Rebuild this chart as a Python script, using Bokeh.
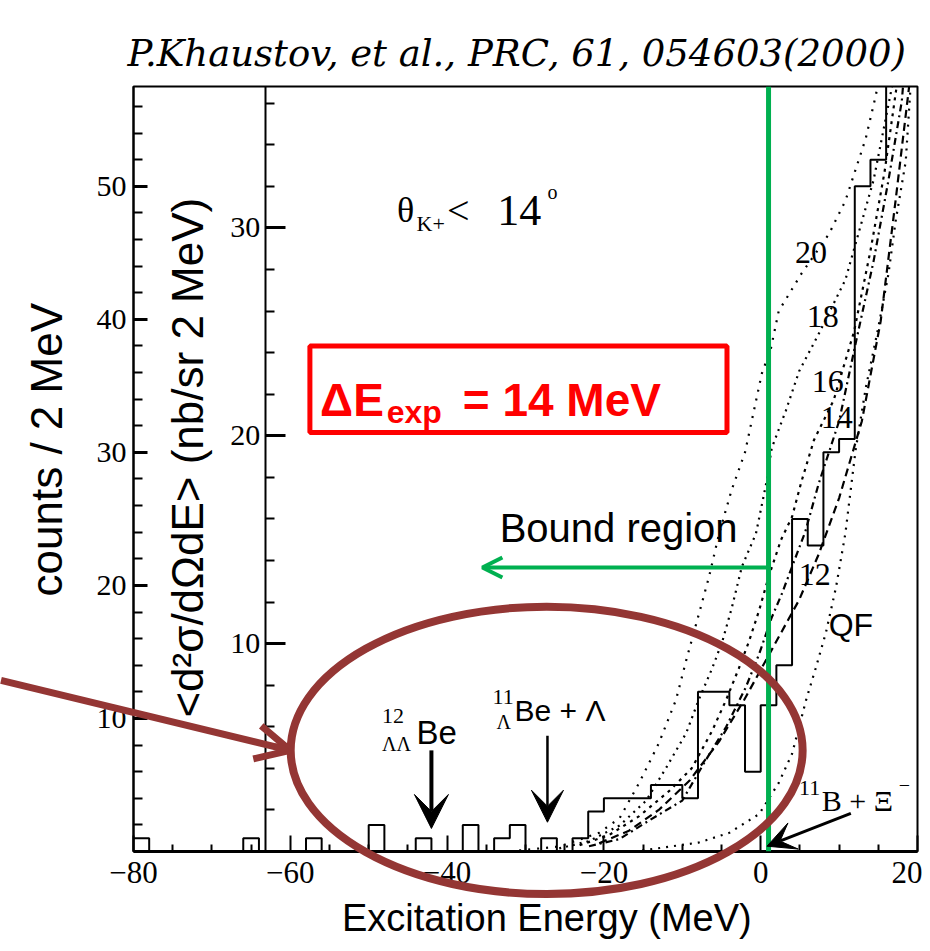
from math import pi
from bokeh.plotting import figure
from bokeh.models import (Range1d, LinearAxis, FixedTicker, Label, Span, Arrow,
                          VeeHead, OpenHead, BoxAnnotation)
from bokeh.core.properties import value
from bokeh.embed import file_html
from bokeh.resources import INLINE

# ---------------- data ----------------
BIN_LEFT = list(range(-80, 20, 2))          # 2 MeV bins
BIN_RIGHT_EDGE = 20
COUNTS = [1, 0, 0, 0, 0, 0, 0, 1, 0, 0,
          0, 1, 0, 0, 0, 2, 0, 0, 1, 0,
          0, 2, 0, 1, 2, 0, 1, 0, 1, 3,
          4, 4, 4, 5, 5, 4, 12, 12, 11, 6,
          11, 14, 25, 23, 30, 31, 50, 52, 62, 66]

# theoretical curves (cross-section units), labelled by potential depth
C20_E = [-30.8, -25.7, -20.6, -18.0, -15.5, -13.0, -10.8, -9.5, -7.9, -6.6, -5.3,
         -3.7, -2.0, 0.15, 1.3, 2.3, 5.2, 8.7, 10.8, 13.4, 14.7, 15.2]
C20_CS = [0.05, 0.24, 0.9, 1.6, 3.3, 5.2, 7.3, 9.2, 11.4, 13.2, 15.3,
          17.4, 19.2, 23.0, 24.2, 26.0, 27.8, 29.7, 31.3, 34.3, 36.4, 37.5]
C18_E = [-25.7, -21.9, -18.0, -14.6, -12.1, -9.5, -7.9, -6.2, -4.9, -3.7, -2.4,
         -0.6, 0.7, 1.4, 3.2, 4.9, 7.4, 10.8, 14.4, 16.7, 17.0]
C18_CS = [0.15, 0.5, 1.25, 2.45, 4.0, 5.7, 7.3, 8.8, 10.1, 11.7, 13.7,
          15.3, 17.7, 19.4, 21.2, 23.1, 24.9, 27.5, 32.3, 36.7, 37.5]
C16_E = [-23.1, -19.3, -15.5, -11.7, -8.8, -6.2, -4.4, -2.8, -1.5, -0.2, 1.0,
         2.6, 4.0, 5.2, 6.8, 9.3, 11.9, 14.0, 15.8, 17.3, 17.6]
C16_CS = [0.3, 0.8, 1.7, 2.9, 4.0, 5.8, 7.3, 8.8, 10.1, 11.6, 13.2,
          15.0, 16.1, 17.8, 19.8, 21.7, 25.0, 28.9, 32.7, 36.7, 37.5]
C14_E = [-21.9, -18.0, -14.2, -10.0, -7.0, -4.4, -1.9, -0.2, 1.4, 2.7, 4.0,
         5.7, 7.4, 10.0, 12.2, 14.4, 16.3, 18.0, 18.3]
C14_CS = [0.25, 0.6, 1.5, 2.45, 4.4, 6.0, 7.9, 9.5, 11.25, 12.4, 13.7,
          15.4, 17.7, 20.7, 24.6, 28.4, 32.3, 36.1, 37.5]
C12_E = [-20.6, -16.8, -13.0, -9.1, -5.3, -2.1, 1.4, 4.9, 7.4, 10.0, 12.9,
         15.3, 17.2, 18.9, 19.2]
C12_CS = [0.4, 1.0, 2.0, 3.4, 5.3, 7.3, 9.7, 12.1, 14.3, 17.0, 20.7,
          25.5, 31.3, 36.7, 37.5]
CQF_E = [-15.1, -7.9, -4.0, -0.2, 2.3, 4.0, 4.9, 5.8, 7.0, 8.3, 9.6, 10.8,
         12.1, 13.4, 15.0, 16.3, 17.2, 18.5, 19.1, 19.3]
CQF_CS = [0.05, 0.43, 0.9, 1.8, 3.3, 4.7, 6.0, 7.3, 8.8, 10.5, 12.7, 15.3,
          19.3, 22.3, 25.2, 27.8, 30.3, 33.2, 36.7, 37.5]

X_TICKS = [-80, -60, -40, -20, 0, 20]
X_TICK_LABELS = ["\u221280", "\u221260", "\u221240", "\u221220", "0", "20"]
X_MINOR = [-75, -70, -65, -55, -50, -45, -35, -30, -25, -15, -10, -5, 5, 10, 15]
COUNT_TICKS = [10, 20, 30, 40, 50]
COUNT_MINOR = [2, 4, 6, 8, 12, 14, 16, 18, 22, 24, 26, 28, 32, 34, 36, 38,
               42, 44, 46, 48, 52, 54, 56]
CS_TICKS = [10, 20, 30]
CS_MINOR = [2, 4, 6, 8, 12, 14, 16, 18, 22, 24, 26, 28, 32, 34, 36]

INNER_AXIS_E = -63.2      # position of the cross-section axis
THRESHOLD_E = 1.0         # green line
ARROW_12BE_E = -42.0
ARROW_11BE_E = -27.2

# ---------------- style ----------------
SERIF = "Liberation Serif"
SANS = "Liberation Sans"
GREEN = "#00B050"
RED = "#FF0000"
BROWN = "#943634"

p = figure(width=922, height=943, x_range=Range1d(-80, 20), y_range=Range1d(0, 57.5),
           output_backend="svg", toolbar_location=None,
           min_border_left=133, min_border_right=5, min_border_top=86,
           min_border_bottom=92)
p.extra_y_ranges = {"cs": Range1d(0, 36.8)}
p.grid.visible = False
p.outline_line_color = "black"
p.outline_line_width = 2
p.background_fill_color = "white"
p.border_fill_color = "white"

p.title.text = "P.Khaustov, et al., PRC, 61, 054603(2000)"
p.title.text_font = "DejaVu Serif"
p.title.text_font_style = "italic"
p.title.text_font_size = "37px"
p.title.text_color = "black"
p.title.align = "left"
p.title.offset = -6
p.title.standoff = 24

xa = p.xaxis[0]
xa.ticker = FixedTicker(ticks=X_TICKS, minor_ticks=X_MINOR)
xa.major_label_overrides = {t: l for t, l in zip(X_TICKS, X_TICK_LABELS)}
xa.major_tick_in = 16
xa.major_tick_out = 0
xa.minor_tick_in = 7
xa.minor_tick_out = 0
xa.axis_line_width = 3
xa.major_tick_line_width = 2
xa.minor_tick_line_width = 2
xa.major_label_text_font = SERIF
xa.major_label_text_font_size = "31px"
xa.major_label_text_color = "black"
xa.major_label_standoff = 10

ya = p.yaxis[0]
ya.ticker = FixedTicker(ticks=COUNT_TICKS, minor_ticks=COUNT_MINOR)
ya.major_tick_in = 14
ya.major_tick_out = 0
ya.minor_tick_in = 9
ya.minor_tick_out = 0
ya.axis_line_width = 2
ya.major_tick_line_width = 3
ya.minor_tick_line_width = 2
ya.major_label_text_font = SERIF
ya.major_label_text_font_size = "30px"
ya.major_label_text_color = "black"
ya.major_label_standoff = 7

cs_axis = LinearAxis(y_range_name="cs", fixed_location=INNER_AXIS_E,
                     ticker=FixedTicker(ticks=CS_TICKS, minor_ticks=CS_MINOR))
cs_axis.major_tick_in = 20
cs_axis.major_tick_out = 0
cs_axis.minor_tick_in = 9
cs_axis.minor_tick_out = 0
cs_axis.axis_line_width = 2
cs_axis.major_tick_line_width = 3
cs_axis.minor_tick_line_width = 2
cs_axis.major_label_text_font = SERIF
cs_axis.major_label_text_font_size = "30px"
cs_axis.major_label_text_color = "black"
cs_axis.major_label_standoff = 5
p.add_layout(cs_axis, "left")

# ---------------- curves ----------------
curve_specs = [
    (C20_E, C20_CS, "2 7"),
    (C18_E, C18_CS, "2 5"),
    (C16_E, C16_CS, "3 5"),
    (C14_E, C14_CS, "7 4 2 4"),
    (C12_E, C12_CS, "8 5"),
    (CQF_E, CQF_CS, "2 6"),
]
for ex, cs, dash in curve_specs:
    p.line(ex, cs, y_range_name="cs", line_color="black", line_width=2.2,
           line_dash=dash)

# ---------------- histogram ----------------
p.step(BIN_LEFT + [BIN_RIGHT_EDGE], COUNTS + [COUNTS[-1]], mode="after",
       line_color="black", line_width=2)

# ---------------- annotations ----------------
def add_label(x, y, text, size, font=SERIF, color="black", align="left",
              baseline="alphabetic", style="normal", angle=0.0):
    p.add_layout(Label(x=x, y=y, text=text, text_font=font,
                       text_font_size=size, text_color=color, text_align=align,
                       text_baseline=baseline, text_font_style=style, angle=angle,
                       level="overlay"))


def add_free_text(x, y, text, size, font=SANS, align="center",
                  baseline="alphabetic", angle=0.0):
    # glyph text on the overlay level (not clipped to the frame)
    p.text(x=[x], y=[y], text=[text], text_font=value(font),
           text_font_size=value(size), text_color="black", text_align=align,
           text_baseline=baseline, angle=angle, level="overlay")

# curve labels
for x, y, t in [(6.4, 45.0, "20"), (7.9, 40.2, "18"), (8.55, 35.3, "16"),
                (9.7, 32.6, "14"), (6.9, 20.8, "12")]:
    add_label(x, y, t, "32px", align="center", baseline="middle")
add_label(11.5, 17.0, "QF", "32px", font=SANS, align="center", baseline="middle")

# theta label
add_label(-46.4, 48.2, "\u03b8", "36px")
add_label(-43.9, 47.2, "K+", "22px")
add_label(-40.0, 48.2, "<", "40px")
add_label(-33.6, 48.2, "14", "44px")
add_label(-27.2, 49.6, "o", "20px")

# red box
p.add_layout(BoxAnnotation(left=-57.5, right=-4.3, bottom=31.5, top=38.0,
                           fill_color="white", fill_alpha=1.0,
                           line_color=RED, line_alpha=1.0, line_width=5))
add_label(-56.2, 33.9, "\u0394E", "46px", font=SANS, color=RED, style="bold")
add_label(-47.7, 33.0, "exp", "32px", font=SANS, color=RED, style="bold")
add_label(-38.0, 33.9, "= 14 MeV", "46px", font=SANS, color=RED, style="bold")

# bound region
add_label(-33.3, 24.3, "Bound region", "40px", font=SANS)
p.add_layout(Span(location=THRESHOLD_E, dimension="height", line_color=GREEN,
                  line_width=5))
p.add_layout(Arrow(x_start=THRESHOLD_E, y_start=21.35, x_end=-35.5, y_end=21.35,
                   line_color=GREEN, line_width=4,
                   end=OpenHead(size=20, line_color=GREEN, line_width=4)))

# 12 LL Be
add_label(-48.3, 10.2, "12", "22px")
add_label(-48.3, 8.1, "\u039b\u039b", "20px")
add_label(-43.9, 8.95, "Be", "33px", font=SANS)
p.add_layout(Arrow(x_start=ARROW_12BE_E, y_start=7.6, x_end=ARROW_12BE_E, y_end=1.73,
                   line_color="black", line_width=4,
                   end=VeeHead(size=34, fill_color="black", line_color="black")))
# 11 L Be + L
add_label(-34.2, 11.6, "11", "22px")
add_label(-33.7, 9.7, "\u039b", "20px")
add_label(-31.4, 10.6, "Be + \u039b", "30px", font=SANS)
p.add_layout(Arrow(x_start=ARROW_11BE_E, y_start=8.7, x_end=ARROW_11BE_E, y_end=2.2,
                   line_color="black", line_width=2.5,
                   end=VeeHead(size=32, fill_color="black", line_color="black")))
# 11 B + Xi-
add_label(4.9, 4.8, "11", "22px")
add_label(7.8, 3.8, "B + \u039e", "30px")
add_label(17.6, 5.0, "\u2212", "20px")
p.add_layout(Arrow(x_start=11.5, y_start=2.86, x_end=0.8, y_end=0.4,
                   line_color="black", line_width=3,
                   end=VeeHead(size=28, fill_color="black", line_color="black")))

# axis titles (outside the frame -> overlay-level text glyphs)
add_free_text(-26.6, -5.0, "Excitation Energy  (MeV)", "38px")
add_free_text(-91.1, 30.2, "counts / 2 MeV", "44px", baseline="middle",
              angle=pi / 2)
add_free_text(-73.1, 29.6, "<d\u00b2\u03c3/d\u03a9dE> (nb/sr 2 MeV)", "44px",
              baseline="middle", angle=pi / 2)

# highlight ellipse and pointer
p.ellipse(x=[-27.3], y=[7.6], width=65.3, height=21.6, fill_color=None,
          line_color=BROWN, line_width=8, level="overlay")
p.segment(x0=[-96.9], y0=[12.86], x1=[-60.3], y1=[7.64], line_color=BROWN,
          line_width=7, level="overlay")
p.add_layout(Arrow(x_start=-62.0, y_start=7.885, x_end=-60.0, y_end=7.6,
                   line_color=BROWN, line_width=7, level="overlay",
                   end=OpenHead(size=34, line_color=BROWN, line_width=7)))

open("out.html", "w").write(file_html(p, INLINE))
